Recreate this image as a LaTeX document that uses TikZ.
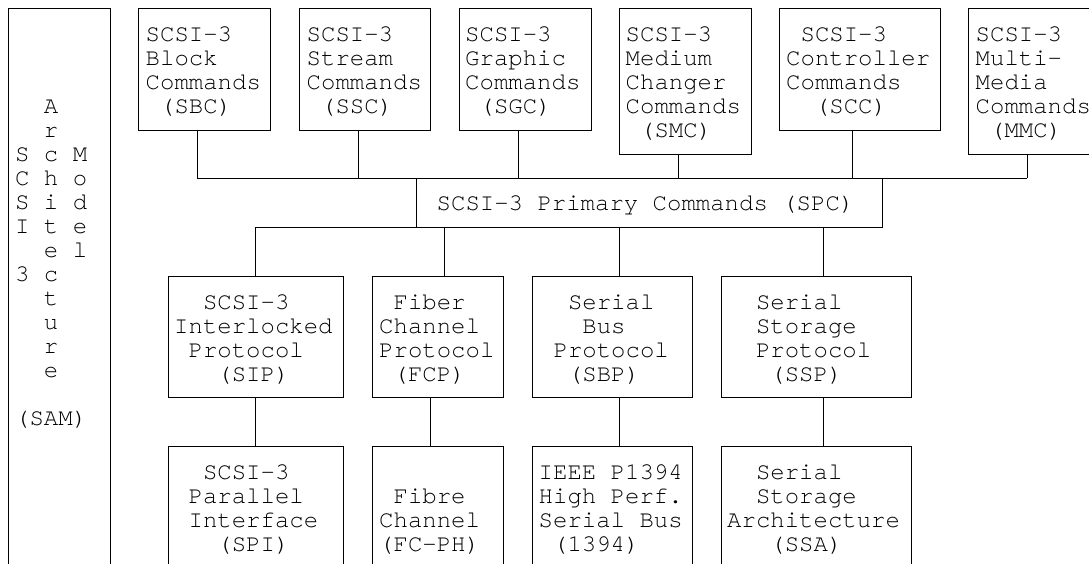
\documentclass[tikz,border=0pt]{standalone}
\usepackage{fontspec}
\setmonofont{texgyrecursor-regular.otf}
\newlength\cw
\setlength\cw{14.4pt}
\newcommand{\ind}[1]{\hspace*{#1\cw}}
\tikzset{
  box/.style={draw=black, line width=0.9pt, inner sep=0pt, outer sep=0pt, rectangle, anchor=north west},
  lbl/.style={font=\ttfamily\fontsize{24}{24}\selectfont, align=left, inner sep=0pt, anchor=base west},
  wire/.style={draw=black, line width=0.9pt}
}
\begin{document}
\lineskiplimit=-100pt
\lineskip=0pt
\begin{tikzpicture}[x=1pt,y=-1pt]
\path[fill=white] (0,0) rectangle (1089,564);
\useasboundingbox (0,0) rectangle (1089,564);
\clip (0,0) rectangle (1089,564);
% left architecture box (base anchor = last line)
\node[box, minimum width=102pt, minimum height=640pt] (sam) at (8,8) {};
\node[lbl] (samt) at (15,425.5) {\ind{2}A\\\ind{2}r\\S c M\\C h o\\S i d\\I t e\\\ind{2}e l\\3 c\\\ind{2}t\\\ind{2}u\\\ind{2}r\\\ind{2}e\\\mbox{}\\(SAM)};
% top row
\node[box, minimum width=132pt, minimum height=122pt] (sbc) at (138,8) {};
\node[box, minimum width=131pt, minimum height=122pt] (ssc) at (299,8) {};
\node[box, minimum width=132pt, minimum height=122pt] (sgc) at (459,8) {};
\node[box, minimum width=132pt, minimum height=146pt] (smc) at (619,8) {};
\node[box, minimum width=161pt, minimum height=122pt] (scc) at (779,8) {};
\node[box, minimum width=170pt, minimum height=146pt] (mmc) at (968,8) {};
\node[lbl] (sbct) at (145.5,114) {SCSI-3\\Block\\Commands\\\ind{1}(SBC)};
\node[lbl] (ssct) at (306.5,114) {SCSI-3\\Stream\\Commands\\\ind{1}(SSC)};
\node[lbl] (sgct) at (465,114) {SCSI-3\\Graphic\\Commands\\\ind{1}(SGC)};
\node[lbl] (smct) at (625.5,138) {SCSI-3\\Medium\\Changer\\Commands\\\ind{1}(SMC)};
\node[lbl] (scct) at (786,114) {\ind{1}SCSI-3\\Controller\\Commands\\\ind{2}(SCC)};
\node[lbl] (mmct) at (975.5,138) {SCSI-3\\Multi-\\Media\\Commands\\\ind{1}(MMC)};
% primary commands
\node[box, minimum width=466pt, minimum height=49pt] (spc) at (416,178) {};
\node[lbl] (spct) at (436.5,211) {SCSI-3 Primary Commands (SPC)};
% protocol row
\node[box, minimum width=175pt, minimum height=121pt] (sip) at (168,276) {};
\node[box, minimum width=131pt, minimum height=121pt] (fcp) at (372,276) {};
\node[box, minimum width=160pt, minimum height=121pt] (sbp) at (532,276) {};
\node[box, minimum width=190pt, minimum height=121pt] (ssp) at (721,276) {};
\node[lbl] (sipt) at (174,381) {\ind{2}SCSI-3\\Interlocked\\\ind{1}Protocol\\\ind{3}(SIP)};
\node[lbl] (fcpt) at (379,381) {\ind{1}Fiber\\Channel\\Protocol\\\ind{1}(FCP)};
\node[lbl] (sbpt) at (539,381) {\ind{2}Serial\\\ind{3}Bus\\\ind{1}Protocol\\\ind{2}(SBP)};
\node[lbl] (sspt) at (727,381) {\ind{2}Serial\\\ind{2}Storage\\\ind{2}Protocol\\\ind{3}(SSP)};
% physical row
\node[box, minimum width=175pt, minimum height=200pt] (spi) at (168,446) {};
\node[box, minimum width=131pt, minimum height=200pt] (fcph) at (372,446) {};
\node[box, minimum width=160pt, minimum height=200pt] (ieee) at (532,446) {};
\node[box, minimum width=190pt, minimum height=200pt] (ssa) at (721,446) {};
\node[lbl] (spit) at (174,551) {\ind{2}SCSI-3\\\ind{1}Parallel\\\ind{1}Interface\\\ind{3}(SPI)};
\node[lbl] (fcpht) at (379,551) {\ind{1}Fibre\\Channel\\(FC-PH)};
\node[lbl] (ieeet) at (538.5,551) {IEEE P1394\\High Perf.\\Serial Bus\\\ind{1}(1394)};
\node[lbl] (ssat) at (727,551) {\ind{2}Serial\\\ind{2}Storage\\Architecture\\\ind{3}(SSA)};
% upper bus junctions
\coordinate (jsbc) at (197,178);
\coordinate (jssc) at (358,178);
\coordinate (jsgc) at (518,178);
\coordinate (jsmc) at (678,178);
\coordinate (jscc) at (852,178);
\coordinate (jmmc) at (1027,178);
\draw[wire] (jsbc |- sbc.south) -- (jsbc);
\draw[wire] (jssc |- ssc.south) -- (jssc);
\draw[wire] (jsgc |- sgc.south) -- (jsgc);
\draw[wire] (jsmc |- smc.south) -- (jsmc);
\draw[wire] (jscc |- scc.south) -- (jscc);
\draw[wire] (jmmc |- mmc.south) -- (jmmc);
\draw[wire] (jsbc) -- (jmmc);
% lower bus junctions
\coordinate (jsip) at (255,227);
\coordinate (jfcp) at (444,227);
\coordinate (jsbp) at (619,227);
\coordinate (jssp) at (823,227);
\draw[wire] (jsip) -- (spc.south west);
\draw[wire] (jsip) -- (jsip |- sip.north);
\draw[wire] (jfcp) -- (jfcp |- fcp.north);
\draw[wire] (jsbp) -- (jsbp |- sbp.north);
\draw[wire] (jssp) -- (jssp |- ssp.north);
% protocol to physical
\coordinate (vfcp) at (430,420);
\draw[wire] (jsip |- sip.south) -- (jsip |- spi.north);
\draw[wire] (vfcp |- fcp.south) -- (vfcp |- fcph.north);
\draw[wire] (jsbp |- sbp.south) -- (jsbp |- ieee.north);
\draw[wire] (jssp |- ssp.south) -- (jssp |- ssa.north);
\end{tikzpicture}
\end{document}
